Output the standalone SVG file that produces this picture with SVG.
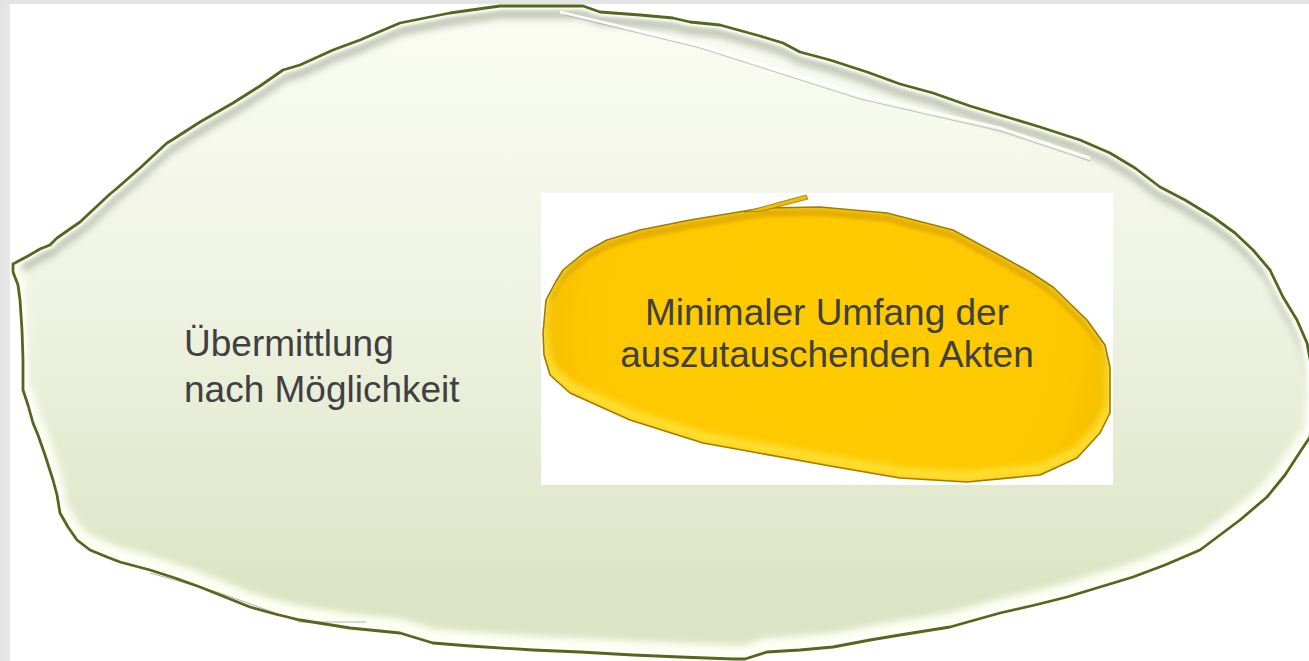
<svg xmlns="http://www.w3.org/2000/svg" width="1309" height="661" viewBox="0 0 1309 661">
  <style>
    .label { font-family: "Liberation Sans", Arial, sans-serif; font-size: 37px; fill: #404040; }
    .edge { fill: none; stroke: #56661d; stroke-width: 2.8; stroke-linejoin: round; }
    .yolk-edge { fill: none; stroke: #a07c00; stroke-width: 1.6; stroke-linejoin: round; }
  </style>
  <defs>
    <linearGradient id="whiteFill" x1="0" y1="0" x2="0" y2="661" gradientUnits="userSpaceOnUse">
      <stop offset="0" stop-color="#fbfdf4"/>
      <stop offset="0.45" stop-color="#eff3e2"/>
      <stop offset="0.9" stop-color="#dde4c5"/>
    </linearGradient>
    <radialGradient id="yolkFill" cx="830" cy="330" r="300" gradientUnits="userSpaceOnUse">
      <stop offset="0" stop-color="#ffcb00"/>
      <stop offset="0.8" stop-color="#fec800"/>
      <stop offset="1" stop-color="#f4bd00"/>
    </radialGradient>
    <linearGradient id="leftBand" x1="0" y1="0" x2="1" y2="0">
      <stop offset="0" stop-color="#e2e2e2"/>
      <stop offset="1" stop-color="#e8e8e8"/>
    </linearGradient>
    <filter id="soft" x="-10%" y="-10%" width="120%" height="120%">
      <feGaussianBlur stdDeviation="3"/>
    </filter>
    <filter id="softer" x="-10%" y="-10%" width="120%" height="120%">
      <feGaussianBlur stdDeviation="1.5"/>
    </filter>
    <path id="whiteShape" d="M13,264 L28,256 L40,249 L50,245 L57,238 L80,222 L110,194 L115,190 L140,168 L167,143 L172,140 L200,122 L233,103 L260,86 L283,70 L300,65 L333,50 L360,40 L400,23 L450,13 L500,6 L583,6 L600,12 L640,15 L673,18 L690,22 L720,25 L760,36 L783,43 L800,52 L830,60 L867,72 L900,84 L933,93 L970,106 L1000,115 L1040,127 L1080,140 L1110,153 L1135,168 L1160,187 L1185,200 L1213,217 L1235,233 L1253,250 L1270,270 L1283,297 L1297,320 L1307,343 L1312,370 L1313,400 L1310,437 L1300,452 L1285,475 L1267,497 L1240,520 L1220,535 L1200,550 L1165,565 L1133,577 L1100,587 L1067,597 L1035,605 L1000,613 L975,620 L950,627 L900,635 L870,640 L833,647 L800,650 L767,652 L745,659 L733,659 L680,657 L633,655 L580,652 L533,650 L470,646 L433,643 L400,633 L350,628 L300,620 L275,614 L250,607 L225,597 L200,587 L175,578 L150,570 L120,562 L107,557 L90,550 L77,540 L68,527 L60,513 L57,495 L53,480 L45,455 L38,435 L33,423 L28,405 L23,390 L23,360 L22,330 L20,300 L18,285 L13,272 Z"/>
    <path id="yolkShape" d="M543,333 L546,300 L555,283 L563,270 L585,252 L607,240 L640,230 L690,220 L763,208 L820,207 L887,213 L953,230 L1003,257 L1030,272 L1053,287 L1087,320 L1105,345 L1110,367 L1110,413 L1100,433 L1077,458 L1040,475 L967,482 L900,478 L830,466 L703,443 L630,420 L570,393 L550,375 L544,355 Z"/>
    <clipPath id="whiteClip"><use href="#whiteShape"/></clipPath>
    <clipPath id="yolkClip"><use href="#yolkShape"/></clipPath>
  </defs>

  <!-- page background with grey margins -->
  <rect x="0" y="0" width="1309" height="661" fill="#ffffff"/>
  <rect x="0" y="0" width="10" height="661" fill="url(#leftBand)"/>
  <rect x="0" y="0" width="1309" height="4" fill="#e4e4e4"/>

  <!-- outer region: egg white -->
  <g id="node-egg-white">
    <use href="#whiteShape" fill="url(#whiteFill)"/>
    <g clip-path="url(#whiteClip)">
      <!-- shadow under the upper rim -->
      <use href="#whiteShape" transform="translate(0,7)" fill="none" stroke="#b9bdad" stroke-width="12" filter="url(#soft)" opacity="0.8"/>
      <!-- light rim along the lower edge -->
      <use href="#whiteShape" transform="translate(0,-6)" fill="none" stroke="#fdfff2" stroke-width="16" filter="url(#soft)"/>
      <use href="#whiteShape" fill="none" stroke="#ffffff" stroke-width="6" filter="url(#softer)"/>
    </g>
    <!-- folded sheets along the rim -->
    <path d="M560,12 L700,45 L860,95 L1000,128 L1090,158" fill="none" stroke="#ffffff" stroke-width="2.5" opacity="0.9"/>
    <path d="M565,15 L700,48 L860,99 L1000,131 L1090,161" fill="none" stroke="#a6aa9c" stroke-width="1" opacity="0.7"/>
    <path d="M150,573 L220,593 L300,622 L366,622" fill="none" stroke="#9ea393" stroke-width="1" opacity="0.8"/>
    <use href="#whiteShape" class="edge"/>
    <text class="label" x="184" y="356">Übermittlung</text>
    <text class="label" x="184" y="402">nach Möglichkeit</text>
  </g>

  <!-- inner region: egg yolk on its white card -->
  <g id="node-yolk">
    <rect x="541" y="193" width="572" height="292" fill="#ffffff"/>
    <use href="#yolkShape" fill="url(#yolkFill)"/>
    <g clip-path="url(#yolkClip)">
      <use href="#yolkShape" transform="translate(0,5)" fill="none" stroke="#d9a400" stroke-width="8" filter="url(#softer)" opacity="0.7"/>
      <use href="#yolkShape" transform="translate(0,-6)" fill="none" stroke="#ffe23a" stroke-width="10" filter="url(#soft)" opacity="0.9"/>
    </g>
    <use href="#yolkShape" class="yolk-edge"/>
    <!-- loose flap on the upper edge -->
    <polygon points="744,212 806,195 808,199 762,211" fill="#f2bd00" stroke="#9a7600" stroke-width="0.8"/>
    <text class="label" x="827" y="325" text-anchor="middle">Minimaler Umfang der</text>
    <text class="label" x="827" y="367" text-anchor="middle">auszutauschenden Akten</text>
  </g>

  <!-- no connectors in this drawing -->
  <g id="connectors"/>
</svg>
